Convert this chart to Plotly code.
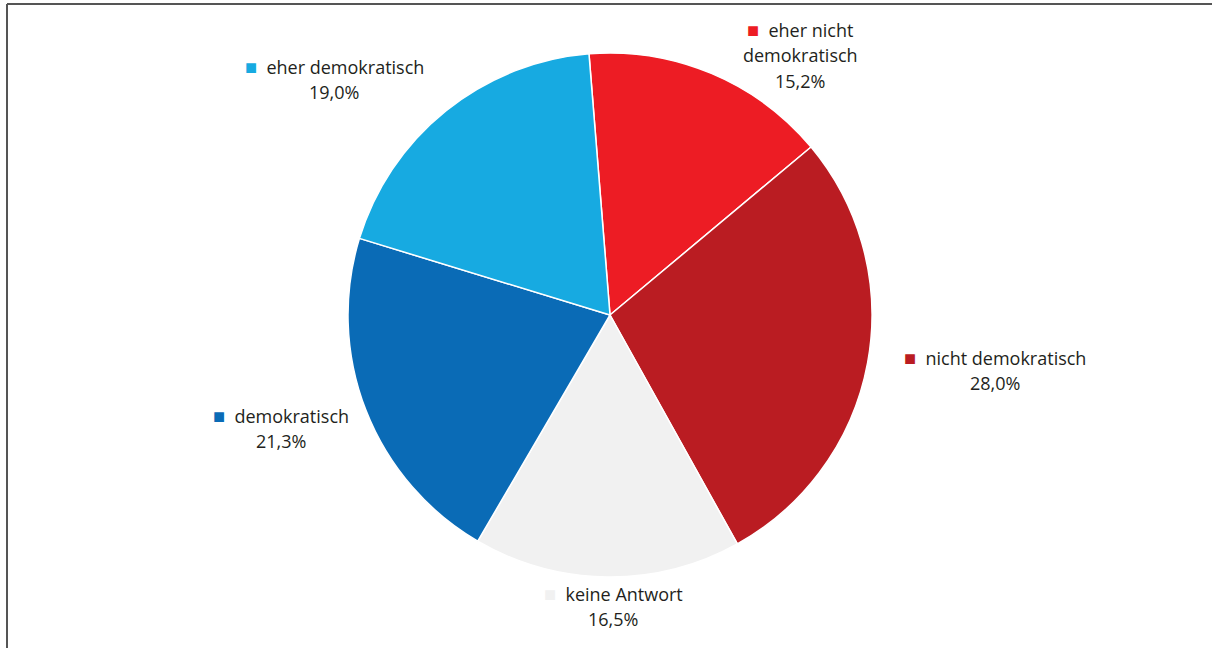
import plotly.graph_objects as go

# Survey answer shares (percent), in clockwise order from the top
labels = ["eher nicht<br>demokratisch", "nicht demokratisch", "keine Antwort",
          "demokratisch", "eher demokratisch"]
values = [15.2, 28.0, 16.5, 21.3, 19.0]
colors = ["#ED1C24", "#BA1C22", "#F1F1F1", "#0A6BB6", "#17AAE1"]

W, H = 1212, 648
CX, CY, R = 610, 315, 262          # pie centre and radius in pixels
START = -4.6                        # angle of the first slice edge (deg, clockwise from 12 o'clock)
LINE_H = 25.5                       # label line spacing in pixels

# label block anchor: centre x and first-line y (pixels)
label_xy = [(800, 30), (995, 357), (613, 593), (281, 415), (334, 66)]

fig = go.Figure(go.Pie(
    labels=[l.replace("<br>", " ") for l in labels],
    values=values,
    sort=False,
    direction="clockwise",
    rotation=START,
    marker=dict(colors=colors, line=dict(color="white", width=1.5)),
    textinfo="none",
    hoverinfo="label+percent",
    showlegend=False,
    domain=dict(x=[(CX - R) / W, (CX + R) / W],
                y=[(H - CY - R) / H, (H - CY + R) / H]),
))

annotations = []
for lab, val, col, (lx, ly) in zip(labels, values, colors, label_xy):
    lines = lab.split("<br>") + [f"{val:.1f}%".replace(".", ",")]
    lines[0] = (f"<span style='color:{col};font-size:20px'>■</span>"
                f"  {lines[0]}")
    for i, line in enumerate(lines):
        annotations.append(dict(
            x=lx / W, y=1 - (ly + i * LINE_H) / H, xref="paper", yref="paper",
            text=line, showarrow=False, align="center",
            xanchor="center", yanchor="middle",
            font=dict(family="Open Sans", size=18, color="#231F20"),
        ))

# frame lines along the top and left edges
shapes = [
    dict(type="line", xref="paper", yref="paper",
         x0=7 / W, x1=1, y0=1 - 4 / H, y1=1 - 4 / H,
         line=dict(color="#555555", width=2)),
    dict(type="line", xref="paper", yref="paper",
         x0=7 / W, x1=7 / W, y0=0, y1=1 - 4 / H,
         line=dict(color="#555555", width=2)),
]

fig.update_layout(
    width=W, height=H,
    margin=dict(l=0, r=0, t=0, b=0),
    paper_bgcolor="white", plot_bgcolor="white",
    annotations=annotations, shapes=shapes,
)

fig.write_html("out.html")
